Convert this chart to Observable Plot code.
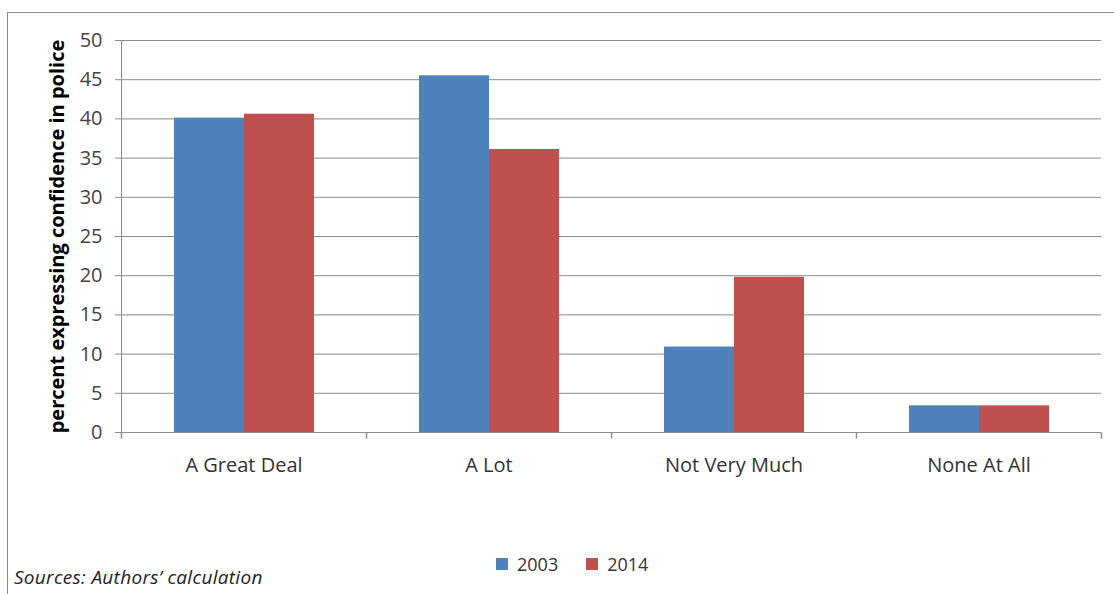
<!DOCTYPE html>
<html>
<head>
<meta charset="utf-8">
<script src="https://cdn.jsdelivr.net/npm/d3@7"></script>
<script src="https://cdn.jsdelivr.net/npm/@observablehq/plot@0.6"></script>
<style>
  body { margin: 0; background: #fff; font-family: "Open Sans", Lato, sans-serif; }
  #wrap { position: relative; width: 1114px; height: 594px; overflow: hidden; background: #fff; }
  #border { position: absolute; left: 7px; top: 12px; width: 1130px; height: 620px; border: 1px solid #8c8c8c; box-sizing: border-box; }
  #chart { position: absolute; left: 0; top: 0; }
  #legend { position: absolute; top: 552px; left: 496px; display: flex; align-items: center; font-size: 18px; color: #333; line-height: 24px; }
  #legend .item { display: flex; align-items: center; margin-right: 28px; }
  #legend .sw { width: 12px; height: 12px; margin-right: 9px; }
  #caption { position: absolute; left: 14px; top: 565px; font-size: 19px; letter-spacing: 0.3px; font-style: italic; color: #222; line-height: 24px; }
</style>
</head>
<body>
<div id="wrap">
  <div id="border"></div>
  <div id="chart"></div>
  <div id="legend"></div>
  <div id="caption"></div>
</div>
<script>
const categories = ["A Great Deal", "A Lot", "Not Very Much", "None At All"];
const years = ["2003", "2014"];
const values2003 = [40.1, 45.5, 10.9, 3.4];
const values2014 = [40.6, 36.1, 19.8, 3.4];
const yTicks = [0, 5, 10, 15, 20, 25, 30, 35, 40, 45, 50];
const yLabel = "percent expressing confidence in police";
const colors = ["#4F81BD", "#C0504D"];
const captionText = "Sources: Authors\u2019 calculation";

const rows = categories.flatMap((c, i) => [
  {category: c, year: years[0], value: values2003[i]},
  {category: c, year: years[1], value: values2014[i]}
]);

const tickSymbol = {draw(context) { context.moveTo(0, 0); context.lineTo(0, 6); }};
const axisGray = "#8a8a8a";

const chart = Plot.plot({
  width: 1114,
  height: 490,
  marginTop: 40,
  marginLeft: 120,
  marginRight: 12,
  marginBottom: 58,
  style: {fontFamily: "'Open Sans', Lato, sans-serif", background: "transparent"},
  fx: {domain: categories, padding: 0, label: null},
  x: {domain: years, paddingInner: 0, paddingOuter: 0.75, axis: null},
  y: {domain: [0, 50], label: null},
  color: {domain: years, range: colors},
  marks: [
    Plot.gridY(yTicks, {stroke: axisGray, strokeOpacity: 1}),
    Plot.barY(rows, {fx: "category", x: "year", y: "value", fill: "year"}),
    Plot.frame({anchor: "left", fx: () => categories[0], stroke: axisGray}),
    Plot.dot([categories[0]], {fx: d => d, frameAnchor: "bottom-left", symbol: tickSymbol, fill: "none", stroke: axisGray}),
    Plot.dot(categories, {fx: d => d, frameAnchor: "bottom-right", symbol: tickSymbol, fill: "none", stroke: axisGray}),
    Plot.axisY(yTicks, {tickSize: 6, tickPadding: 13, stroke: axisGray, fill: "#444", fontSize: 20, label: null}),
    Plot.axisFx({anchor: "bottom", tickSize: 0, tickPadding: 25, fontSize: 20, fill: "#333", label: null}),
    Plot.text([yLabel], {fx: () => categories[0], frameAnchor: "left", textAnchor: "middle", text: d => d, rotate: -90, dx: -64, fontSize: 20, fontWeight: "bold", fill: "#000"})
  ]
});
document.getElementById("chart").appendChild(chart);

const legend = document.getElementById("legend");
years.forEach((y, i) => {
  const item = document.createElement("div");
  item.className = "item";
  const sw = document.createElement("span");
  sw.className = "sw";
  sw.style.background = colors[i];
  const t = document.createElement("span");
  t.textContent = y;
  item.appendChild(sw);
  item.appendChild(t);
  legend.appendChild(item);
});
document.getElementById("caption").textContent = captionText;
</script>
</body>
</html>
